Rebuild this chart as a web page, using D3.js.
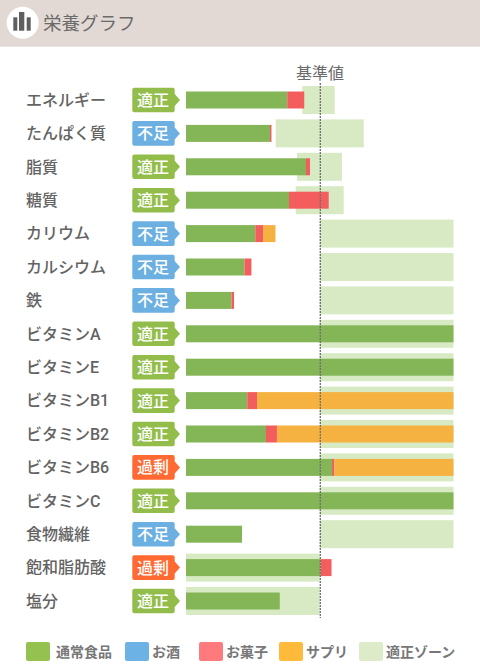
<!DOCTYPE html>
<html><head><meta charset="utf-8">
<script src="https://cdn.jsdelivr.net/npm/d3@7"></script>
<style>html,body{margin:0;padding:0;background:#fff}svg{display:block}text{font-family:Roboto,"Noto Sans CJK JP","Noto Sans",sans-serif}</style>
</head><body><script>
const nutrients=["エネルギー","たんぱく質","脂質","糖質","カリウム","カルシウム","鉄","ビタミンA","ビタミンE","ビタミンB1","ビタミンB2","ビタミンB6","ビタミンC","食物繊維","飽和脂肪酸","塩分"];
const statuses=["適正","不足","適正","適正","不足","不足","不足","適正","適正","適正","適正","過剰","適正","不足","過剰","適正"];
const food=[75.7,62.8,89.7,77.0,51.8,43.7,34.0,200,200,45.8,59.8,109.2,200,41.9,100.6,70.1];
const sweets=[12.7,1.1,3.0,29.7,5.8,5.2,1.9,0,0,7.3,8.2,1.7,0,0,8.2,0];
const supplement=[0,0,0,0,9.3,0,0,0,0,146.9,132,89.1,0,0,0,0];
const zoneLow=[87.0,67.1,83.0,82.0,100,100,100,100,100,100,100,100,100,100,0,0];
const zoneHigh=[111.2,132.9,116.6,117.9,200,200,200,200,200,200,200,200,200,200,100,100];
const legendLabels=["通常食品","お酒","お菓子","サプリ","適正ゾーン"];
const legendColors=["#95c150","#6cb2e4","#ff7a7c","#ffba3b","#deebc9"];
const legendX=[26,125,199,279,359];
const statusColors={"適正":"#92bd4a","不足":"#6cb0e2","過剰":"#ff6a33"};

const W=480,H=668;
const svg=d3.select("body").append("svg").attr("width",W).attr("height",H);
const x=d3.scaleLinear().domain([0,200]).range([186,453.5]);
const y=d3.scaleBand().domain(d3.range(nutrients.length)).range([83.3,617.7]);
const barH=17,zoneH=28;

svg.append("rect").attr("width",W).attr("height",46.7).attr("fill","#e3d9d4");
svg.append("circle").attr("cx",22.7).attr("cy",22.7).attr("r",16).attr("fill","#fff");
svg.append("g").attr("fill","#5f5f5f").selectAll("rect").data([[13.3,17.3],[19,12],[26.7,17.3]]).join("rect")
  .attr("x",d=>d[0]).attr("y",d=>d[1]).attr("width",d=>d[1]===12?5.3:4).attr("height",d=>30.7-d[1]);
svg.append("text").attr("x",43).attr("y",30).attr("font-size",18.5).attr("font-weight",400).attr("fill","#6a6a6a").text("栄養グラフ");

const rows=svg.append("g").selectAll("g").data(nutrients).join("g")
  .attr("transform",(d,i)=>`translate(0,${y(i)+y.bandwidth()/2})`);

rows.append("rect").attr("x",(d,i)=>x(zoneLow[i])).attr("width",(d,i)=>x(zoneHigh[i])-x(zoneLow[i]))
  .attr("y",-zoneH/2).attr("height",zoneH).attr("fill","#d7eac3");
rows.append("rect").attr("x",x(0)).attr("width",(d,i)=>x(food[i])-x(0))
  .attr("y",-barH/2).attr("height",barH).attr("fill","#84b557");
rows.append("rect").attr("x",(d,i)=>x(food[i])).attr("width",(d,i)=>x(food[i]+sweets[i])-x(food[i]))
  .attr("y",-barH/2).attr("height",barH).attr("fill","#f45d5e");
rows.append("rect").attr("x",(d,i)=>x(food[i]+sweets[i])).attr("width",(d,i)=>x(food[i]+sweets[i]+supplement[i])-x(food[i]+sweets[i]))
  .attr("y",-barH/2).attr("height",barH).attr("fill","#f6b241");

rows.append("text").attr("x",26).attr("y",5.7).attr("font-size",16).attr("font-weight",500).attr("fill","#636363").text(d=>d);
rows.append("path").attr("fill",(d,i)=>statusColors[statuses[i]])
  .attr("d","M134.3,-12.3H172.7a2,2 0 0 1 2,2V-6L180,0L174.7,6V10.3a2,2 0 0 1 -2,2H134.3a2,2 0 0 1 -2,-2V-10.3a2,2 0 0 1 2,-2Z");
rows.append("text").attr("x",153).attr("y",5.9).attr("text-anchor","middle").attr("font-size",16).attr("font-weight",500).attr("fill","#fff").text((d,i)=>statuses[i]);

svg.append("line").attr("x1",320.3).attr("x2",320.3).attr("y1",83).attr("y2",618)
  .attr("stroke","#6f6f6f").attr("stroke-width",1.3).attr("stroke-dasharray","2,1");
svg.append("text").attr("x",320).attr("y",78.5).attr("text-anchor","middle").attr("font-size",16).attr("font-weight",400).attr("fill","#6a6a6a").text("基準値");

const lg=svg.append("g").selectAll("g").data(legendLabels).join("g").attr("transform",(d,i)=>`translate(${legendX[i]},642)`);
lg.append("rect").attr("width",24).attr("height",19).attr("rx",2).attr("fill",(d,i)=>legendColors[i]);
lg.append("text").attr("x",(d,i)=>i===0?30:27).attr("y",15).attr("font-size",14).attr("font-weight",700).attr("fill","#777").text(d=>d);
</script></body></html>
